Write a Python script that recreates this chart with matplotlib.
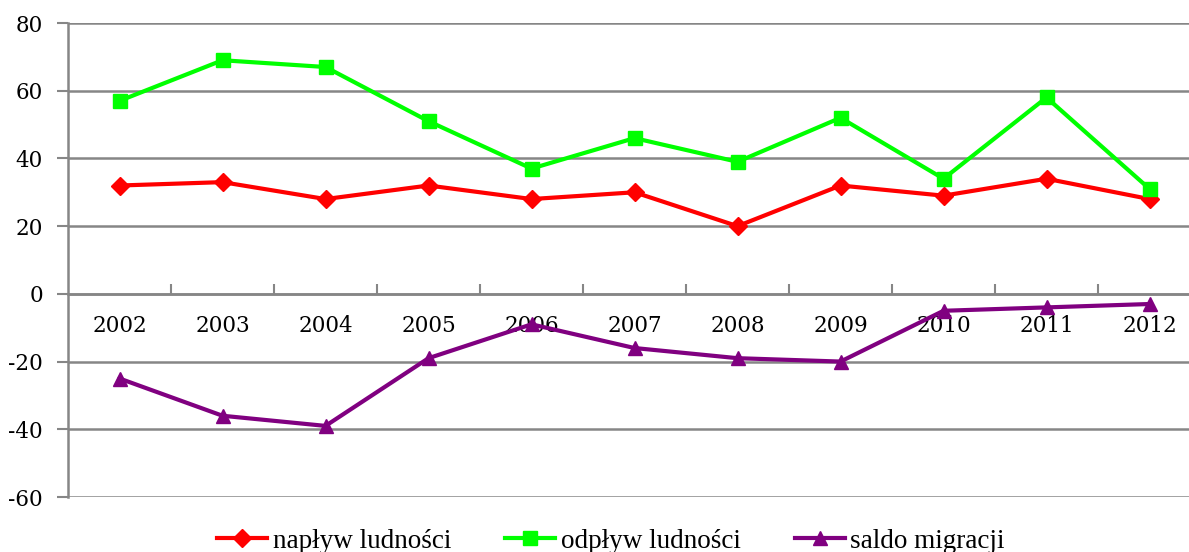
import numpy as np
import matplotlib
matplotlib.use("Agg")
import matplotlib.pyplot as plt
from matplotlib.ticker import MultipleLocator, FixedLocator

lata = ["2002", "2003", "2004", "2005", "2006", "2007", "2008", "2009", "2010", "2011", "2012"]
naplyw = [32, 33, 28, 32, 28, 30, 20, 32, 29, 34, 28]
odplyw = [57, 69, 67, 51, 37, 46, 39, 52, 34, 58, 31]
saldo = [-25, -36, -39, -19, -9, -16, -19, -20, -5, -4, -3]

seria = [
    ("napływ ludności", naplyw, "#ff0000", "D", 9),
    ("odpływ ludności", odplyw, "#00ff00", "s", 10),
    ("saldo migracji", saldo, "#800080", "^", 10),
]

szary = "#868686"
plt.rcParams['font.family'] = ['Liberation Serif', 'DejaVu Serif']
plt.rcParams['axes.unicode_minus'] = False

fig = plt.figure(figsize=(11.89, 5.52), dpi=100)
ax = fig.add_axes([68/1189, 1-497/552, 1-68/1189, (497-23)/552])

x = np.arange(len(lata))
for nazwa, wart, kolor, marker, ms in seria:
    ax.plot(x, wart, color=kolor, lw=3, marker=marker, markersize=ms,
            label=nazwa, clip_on=False, zorder=3)

ax.set_ylim(-60, 80)
ax.set_xlim(-0.5, (1189-68)/103 - 0.5)
ax.yaxis.set_major_locator(MultipleLocator(20))
ax.grid(axis="y", color=szary, lw=1.8)
ax.set_axisbelow(True)

for s in ["top", "right"]:
    ax.spines[s].set_visible(False)
ax.spines["left"].set_color(szary)
ax.spines["left"].set_linewidth(1.8)
ax.spines["bottom"].set_position(("data", 0))
ax.spines["bottom"].set_color(szary)
ax.spines["bottom"].set_linewidth(1.8)

ax.set_xticks(x)
ax.set_xticklabels(lata)
ax.tick_params(axis="x", which="major", length=0, pad=15, labelsize=15.5)
ax.xaxis.set_minor_locator(FixedLocator(np.arange(0.5, 10.5, 1)))
ax.tick_params(axis="x", which="minor", direction="in", length=7, width=1.5, color=szary)
ax.tick_params(axis="y", length=8, width=1.5, color=szary, labelsize=15.5, pad=10)
for lab in ax.get_xticklabels() + ax.get_yticklabels():
    lab.set_family("DejaVu Serif")

fig.legend(loc="center", bbox_to_anchor=(611/1189, 1-541/552), ncol=3, frameon=False,
           fontsize=19.5, handlelength=1.85, columnspacing=2.0, handletextpad=0.2)

fig.savefig("out.png", dpi=100)
